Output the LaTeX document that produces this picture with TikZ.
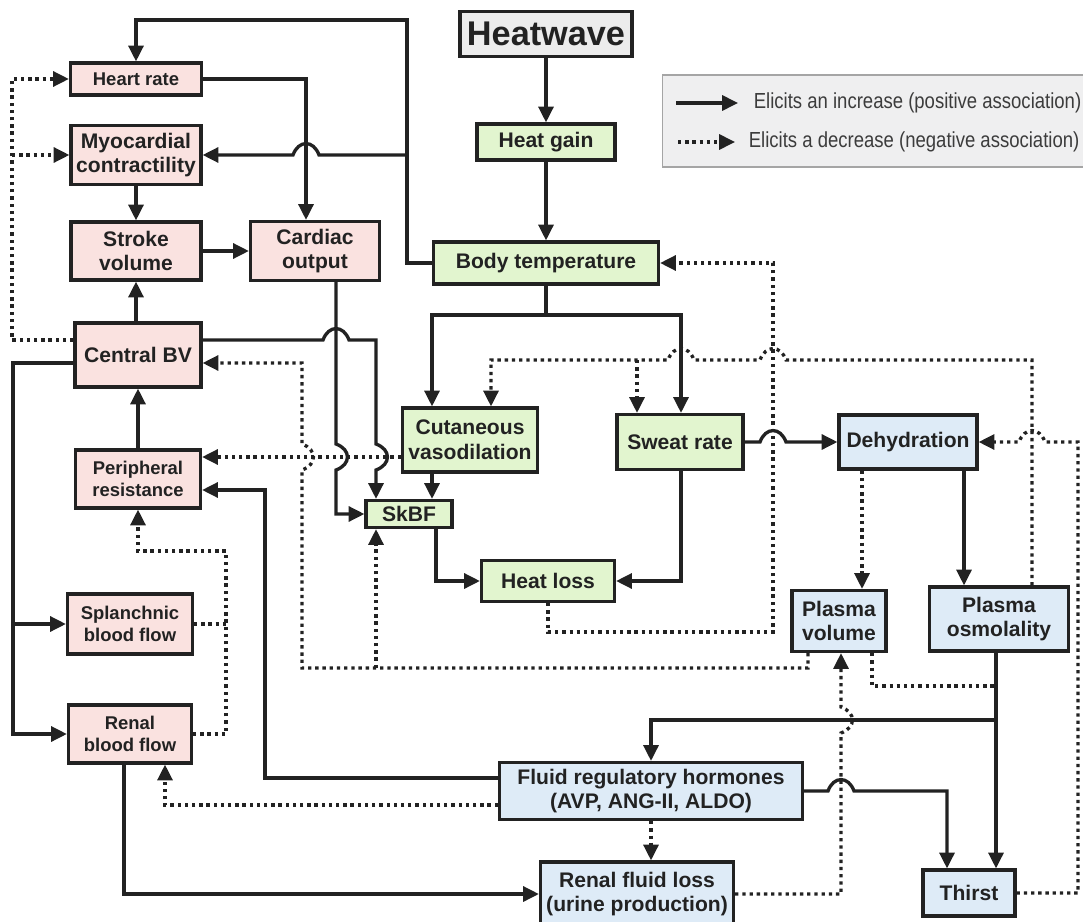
\documentclass[tikz,border=0pt]{standalone}
\usepackage{fontspec}
\setmainfont{Liberation Sans}
\newfontfamily\legfont[FakeStretch=0.85]{Liberation Sans}
\usetikzlibrary{arrows.meta,calc}
\definecolor{linec}{RGB}{34,34,34}
\definecolor{pinkfill}{RGB}{250,226,224}
\definecolor{greenfill}{RGB}{226,245,207}
\definecolor{bluefill}{RGB}{222,235,247}
\definecolor{grayfill}{RGB}{236,236,236}
\definecolor{legfill}{RGB}{239,239,240}
\definecolor{legline}{RGB}{165,165,165}
\definecolor{legtext}{RGB}{60,60,60}

\begin{document}
\begin{tikzpicture}[x=0.2mm, y=-0.2mm, color=linec,
	box/.style={draw=linec, line width=1.8pt, align=center, inner sep=1pt, font=\bfseries\fontsize{12}{14}\selectfont},
	pinkbox/.style={box, fill=pinkfill},
	greenbox/.style={box, fill=greenfill},
	bluebox/.style={box, fill=bluefill},
	small/.style={font=\bfseries\fontsize{10.5}{12.5}\selectfont},
	incr/.style={line width=1.9pt, -{Triangle[length=9pt,width=8.5pt]}},
	decr/.style={incr, dash pattern=on 1.9pt off 2.2pt},
	jr/.style={out=70, in=110, looseness=1.6},
	jl/.style={out=110, in=70, looseness=1.6},
	jd/.style={out=-20, in=20, looseness=1.6},
	ju/.style={out=20, in=-20, looseness=1.6}]
	\clip (0,0) rectangle (1083,921);
	
	% legend
	\node (legend) at (882,121) [draw=legline, fill=legfill, line width=1pt, minimum width=87.8mm, minimum height=18.4mm] {};
	\node (legpos) at (750,103) [anchor=west, inner sep=2pt, text=legtext, font=\legfont\fontsize{12.4}{14}\selectfont] {Elicits an increase (positive association)};
	\node (legneg) at (745,142) [anchor=west, inner sep=2pt, text=legtext, font=\legfont\fontsize{12.4}{14}\selectfont] {Elicits a decrease (negative association)};
	\coordinate (lp1) at (676,103);
	\coordinate (lp2) at (678,142);
	\draw[incr] (lp1) -- ($(legpos.west)+(-12,0)$);
	\draw[decr] (lp2) -- ($(legneg.west)+(-10,0)$);
	
	% thermal part
	\node (heat) at (546,34) [box, fill=grayfill, minimum width=34.4mm, minimum height=9mm, font=\bfseries\fontsize{19.5}{22}\selectfont] {Heatwave};
	\node (gain) at (546,142) [greenbox, minimum width=27.6mm, minimum height=7.2mm] {Heat gain};
	\node (temp) at (546,263) [greenbox, minimum width=45mm, minimum height=8.4mm] {Body temperature};
	\node (cut) at (470,440) [greenbox, minimum width=27mm, minimum height=12.8mm] {Cutaneous\\vasodilation};
	\node (skbf) at (409,514) [greenbox, minimum width=17.2mm, minimum height=5.4mm] {SkBF};
	\node (sweat) at (680,442) [greenbox, minimum width=25.2mm, minimum height=11mm] {Sweat rate};
	\node (loss) at (548,581) [greenbox, minimum width=26.6mm, minimum height=8.2mm] {Heat loss};
	
	% cardiovascular part
	\node (hr) at (136,79) [pinkbox, small, minimum width=26.2mm, minimum height=6.4mm] {Heart rate};
	\node (myo) at (136,155) [pinkbox, minimum width=26mm, minimum height=11.8mm] {Myocardial\\contractility};
	\node (sv) at (136,251) [pinkbox, minimum width=26mm, minimum height=11.6mm] {Stroke\\volume};
	\node (co) at (315,251) [pinkbox, minimum width=25.8mm, minimum height=11.8mm] {Cardiac\\output};
	\node (cbv) at (138,355) [pinkbox, minimum width=25.2mm, minimum height=12.8mm] {Central BV};
	\node (pr) at (138,479) [pinkbox, small, minimum width=25mm, minimum height=11.6mm] {Peripheral\\resistance};
	\node (spl) at (130,624) [pinkbox, small, minimum width=25mm, minimum height=12mm] {Splanchnic\\blood flow};
	\node (rbf) at (130,734) [pinkbox, small, minimum width=24.6mm, minimum height=11.6mm] {Renal\\blood flow};
	
	% fluid part
	\node (dehyd) at (908,442) [bluebox, minimum width=27.6mm, minimum height=10.8mm] {Dehydration};
	\node (pv) at (839,621) [bluebox, minimum width=18.8mm, minimum height=12.2mm] {Plasma\\volume};
	\node (posm) at (999,619) [bluebox, minimum width=27.8mm, minimum height=12.8mm] {Plasma\\osmolality};
	\node (frh) at (651,791) [bluebox, minimum width=60.6mm, minimum height=11.4mm] {Fluid regulatory hormones\\(AVP, ANG-II, ALDO)};
	\node (rfl) at (637,894) [bluebox, minimum width=38.6mm, minimum height=12.8mm] {Renal fluid loss\\(urine production)};
	\node (thirst) at (969,893) [bluebox, minimum width=18.4mm, minimum height=9.2mm] {Thirst};
	
	\coordinate (hrsplit) at (407,155);
	\coordinate (tsplit) at (546,315);
	\coordinate (osmsplit) at (637,360);
	\coordinate (pvsplit) at (376,668);
	\coordinate (hsplit) at (996,720);
	\coordinate (hjoin) at (996,686);
	\coordinate (lsplitd) at (12,155);
	\coordinate (lsplits) at (13,624);
	\coordinate (rbfjoin) at (226,624);
	
	% solid connectors
	\draw[incr] (heat) -- (gain);
	\draw[incr] (gain) -- (temp);
	\draw[incr] (temp.west) -| (407,20) -| (hr.north);
	\draw[incr] (hrsplit) -- (319,155) to[jl] (293,155) -- (myo.east);
	\draw[incr] (hr.east) -| ($(co.north)+(-9,0)$);
	\draw[incr] (myo) -- (sv);
	\draw[incr] (sv) -- (co);
	\draw[incr] ($(cbv.north)+(-2,0)$) -- (sv.south);
	\draw[incr] (pr) -- (cbv);
	\draw[incr] ($(co.south)+(21,0)$) -- (336,444) to[jd] (336,470) |- (skbf.west);
	\draw[incr] ($(cbv.east)+(0,-15)$) -- (323,340) to[jr] (349,340) -| (376,444) to[jd] (376,470) -- ($(skbf.north)+(-33,0)$);
	\draw[incr] (temp.south) -- (tsplit) -| ($(cut.north)+(-38,0)$);
	\draw[incr] (tsplit) -| ($(sweat.north)+(1,0)$);
	\draw[incr] ($(cut.south)+(-38,0)$) -- ($(skbf.north)+(23,0)$);
	\draw[incr] (sweat.east) -- (760,442) to[jr] (786,442) -- (dehyd.west);
	\draw[incr] ($(sweat.south)+(1,0)$) |- (loss.east);
	\draw[incr] ($(skbf.south)+(27,0)$) |- (loss.west);
	\draw[incr] ($(dehyd.south)+(56,0)$) -- ($(posm.north)+(-35,0)$);
	\draw[incr] ($(posm.south)+(-3,0)$) -- ($(thirst.north)+(27,0)$);
	\draw[incr] (hsplit) -| (frh.north);
	\draw[incr] (frh.east) -- (828,791) to[jr] (854,791) -| ($(thirst.north)+(-22,0)$);
	\draw[incr] ($(frh.west)+(0,-13)$) -| (265,490) -- ($(pr.east)+(0,11)$);
	\draw[incr] ($(rbf.south)+(-6,0)$) |- (rfl.west);
	\draw[incr] ($(cbv.west)+(0,8)$) -- (13,363) |- (rbf.west);
	\draw[incr] (lsplits) -- (spl.west);
	
	% dotted connectors
	\draw[decr] ($(cut.west)+(0,17)$) -- ($(pr.east)+(0,-22)$);
	\draw[decr] ($(pv.south)+(-31,0)$) |- (302,668) -- (302,470) to[ju] (302,444) |- ($(cbv.east)+(0,8)$);
	\draw[decr] (pvsplit) -- ($(skbf.south)+(-33,0)$);
	\draw[decr] ($(posm.north)+(33,0)$) -- (1032,360) -- (786,360) to[jl] (760,360) -- (694,360) to[jl] (668,360) -| ($(cut.north)+(21,0)$);
	\draw[decr] (osmsplit) -- ($(sweat.north)+(-43,0)$);
	\draw[decr] (loss.south) |- (773,632) |- (temp.east);
	\draw[decr] ($(dehyd.south)+(-46,0)$) -- ($(pv.north)+(23,0)$);
	\draw[decr] (thirst.east) -| (1078,442) -- (1045,442) to[jl] (1019,442) -- (dehyd.east);
	\draw[decr, -] ($(pv.south)+(33,0)$) |- (hjoin);
	\draw[decr] (frh.south) -- (frh.south |- rfl.north);
	\draw[decr] (rfl.east) -| (841,733) to[ju] (841,707) -- ($(pv.south)+(2,0)$);
	\draw[decr] ($(frh.west)+(0,14)$) -| ($(rbf.south)+(35,0)$);
	\draw[decr] ($(cbv.west)+(0,-15)$) -- (12,340) |- (hr.west);
	\draw[decr] (lsplitd) -- (myo.west);
	\draw[decr] (rbf.east) -| (226,551) -| (pr.south);
	\draw[decr, -] (spl.east) -- (rbfjoin);
\end{tikzpicture}
\end{document}
